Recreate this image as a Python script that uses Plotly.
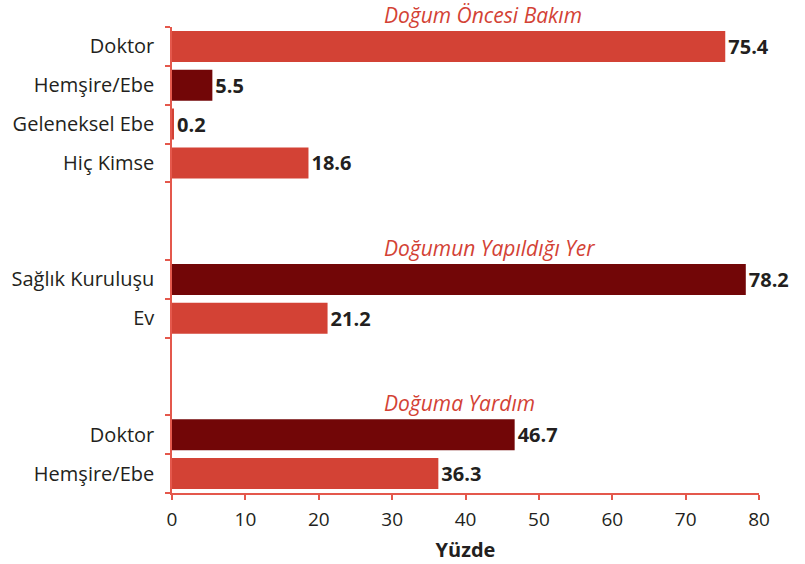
import plotly.graph_objects as go

categories = ["Doktor", "Hemşire/Ebe", "Geleneksel Ebe", "Hiç Kimse", "", "",
              "Sağlık Kuruluşu", "Ev", "", "", "Doktor", "Hemşire/Ebe"]
positions = [0, 1, 2, 3, 6, 7, 10, 11]
bar_labels = ["Doktor", "Hemşire/Ebe", "Geleneksel Ebe", "Hiç Kimse",
              "Sağlık Kuruluşu", "Ev", "Doktor", "Hemşire/Ebe"]
values = [75.4, 5.5, 0.2, 18.6, 78.2, 21.2, 46.7, 36.3]
shades = ["light", "dark", "light", "light", "dark", "light", "dark", "light"]
section_titles = ["Doğum Öncesi Bakım", "Doğumun Yapıldığı Yer", "Doğuma Yardım"]
section_title_pos = [1.026, 0.526, 0.193]   # paper y
section_title_x = 0.358                      # paper x (left edge)
group_boundaries = [-0.5, 0.5, 1.5, 2.5, 3.5, 5.5, 6.5, 7.5, 9.5, 10.5, 11.5]
x_ticks = [0, 10, 20, 30, 40, 50, 60, 70, 80]

LIGHT = "#D34235"
DARK = "#720607"
AXIS = "#E4584C"
TEXT = "#231F20"
FONT = "Open Sans"

colors = [LIGHT if s == "light" else DARK for s in shades]

fig = go.Figure()
fig.add_trace(go.Bar(
    x=values, y=positions, orientation="h",
    marker=dict(color=colors, line=dict(width=0)),
    width=0.8,
    text=[f"{v:.1f}" for v in values],
    textposition="outside",
    textfont=dict(family=FONT, size=20, color=TEXT, weight="bold"),
    cliponaxis=False,
    hovertext=bar_labels,
))

for t, yp in zip(section_titles, section_title_pos):
    fig.add_annotation(x=section_title_x, y=yp, xref="paper", yref="paper", text=t,
                       showarrow=False, xanchor="left", yanchor="middle",
                       font=dict(family=FONT, size=21, color=LIGHT, style="italic"))

fig.update_yaxes(
    range=[11.5, -0.5], automargin=False,
    tickmode="array", tickvals=list(range(len(categories))), ticktext=categories,
    ticks="", ticklabelstandoff=12,
    tickfont=dict(family=FONT, size=20, color=TEXT),
    showline=True, linecolor=AXIS, linewidth=1.5,
    showgrid=False, zeroline=False,
    minor=dict(tickmode="array", tickvals=group_boundaries, ticks="outside",
               ticklen=5, tickcolor=AXIS, tickwidth=1.5, showgrid=False),
)
fig.update_xaxes(
    range=[0, 80], automargin=False, tickmode="array", tickvals=x_ticks,
    ticks="outside", ticklen=5, tickcolor=AXIS, tickwidth=1.5,
    ticklabelstandoff=3,
    tickfont=dict(family=FONT, size=19, color=TEXT),
    showline=True, linecolor=AXIS, linewidth=1.5,
    showgrid=False, zeroline=False,
    title=dict(text="<b>Yüzde</b>", font=dict(family=FONT, size=20, color=TEXT), standoff=12),
)
fig.update_layout(
    width=805, height=564,
    margin=dict(l=172, r=46, t=27, b=71),
    plot_bgcolor="white", paper_bgcolor="white",
    showlegend=False,
)
fig.write_html("out.html", config={"displayModeBar": False},
               post_script="document.body.style.margin='0';")
